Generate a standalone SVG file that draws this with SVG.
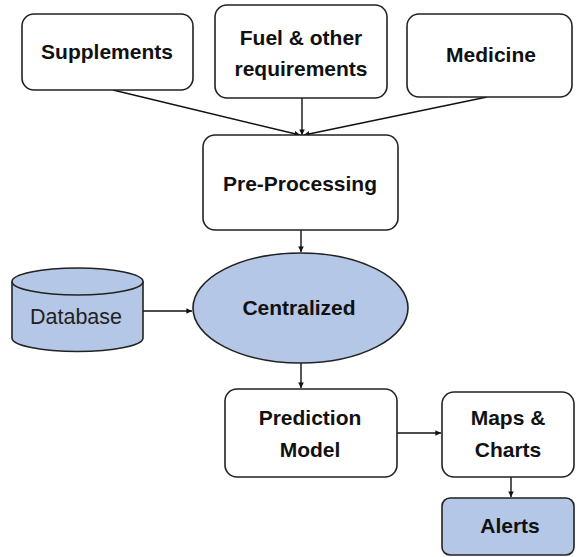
<svg xmlns="http://www.w3.org/2000/svg" width="577" height="557" viewBox="0 0 577 557">
<defs>
<style>
.box{fill:#fff;stroke:#222;stroke-width:1.6}
.blue{fill:#B4C7E7;stroke:#222;stroke-width:1.6}
.t{font-family:"Liberation Sans",Arial,sans-serif;font-weight:bold;font-size:21px;fill:#111;text-anchor:middle}
.tn{font-family:"Liberation Sans",Arial,sans-serif;font-size:21.5px;fill:#222;text-anchor:middle}
.c{fill:none;stroke:#111;stroke-width:1.4;marker-end:url(#ah)}
</style>
<marker id="ah" viewBox="0 0 10 10" refX="10" refY="5" markerWidth="4" markerHeight="4" orient="auto" markerUnits="strokeWidth">
<path d="M0,0 L10,5 L0,10 z" fill="#111"/>
</marker>
</defs>
<rect width="577" height="557" fill="#fff"/>
<g id="connectors">
<line class="c" x1="113" y1="90" x2="300" y2="135"/>
<line class="c" x1="302" y1="98" x2="302" y2="135"/>
<line class="c" x1="487" y1="97" x2="304" y2="135"/>
<line class="c" x1="301" y1="230" x2="301" y2="252"/>
<line class="c" x1="143" y1="311" x2="192" y2="311"/>
<line class="c" x1="301" y1="363" x2="301" y2="388"/>
<line class="c" x1="397" y1="433" x2="441" y2="433"/>
<line class="c" x1="511" y1="477" x2="511" y2="497"/>
</g>
<g id="supplements">
<rect class="box" x="22" y="14" width="171" height="76" rx="12"/>
<text class="t" x="107" y="59">Supplements</text>
</g>
<g id="fuel">
<rect class="box" x="215" y="5" width="172" height="93" rx="12"/>
<text class="t" x="301" y="45">Fuel &amp; other</text>
<text class="t" x="301" y="76">requirements</text>
</g>
<g id="medicine">
<rect class="box" x="407" y="14" width="165" height="83" rx="12"/>
<text class="t" x="491" y="62">Medicine</text>
</g>
<g id="preprocessing">
<rect class="box" x="203" y="135" width="195" height="95" rx="12"/>
<text class="t" x="300" y="191">Pre-Processing</text>
</g>
<g id="database">
<path class="blue" d="M12,281.5 L12,338 A65.5,13.5 0 0 0 143,338 L143,281.5"/>
<ellipse class="blue" cx="77.5" cy="281.5" rx="65.5" ry="13.5"/>
<text class="tn" x="76" y="324">Database</text>
</g>
<g id="centralized">
<ellipse class="blue" cx="300.5" cy="308" rx="107.5" ry="55"/>
<text class="t" x="299" y="315">Centralized</text>
</g>
<g id="prediction">
<rect class="box" x="225" y="389" width="172" height="88" rx="12"/>
<text class="t" x="310" y="425">Prediction</text>
<text class="t" x="310" y="457">Model</text>
</g>
<g id="maps">
<rect class="box" x="442" y="392" width="132" height="85" rx="12"/>
<text class="t" x="508" y="425">Maps &amp;</text>
<text class="t" x="508" y="457">Charts</text>
</g>
<g id="alerts">
<rect class="blue" x="442" y="498" width="132" height="57" rx="8"/>
<text class="t" x="510" y="533">Alerts</text>
</g>
</svg>
